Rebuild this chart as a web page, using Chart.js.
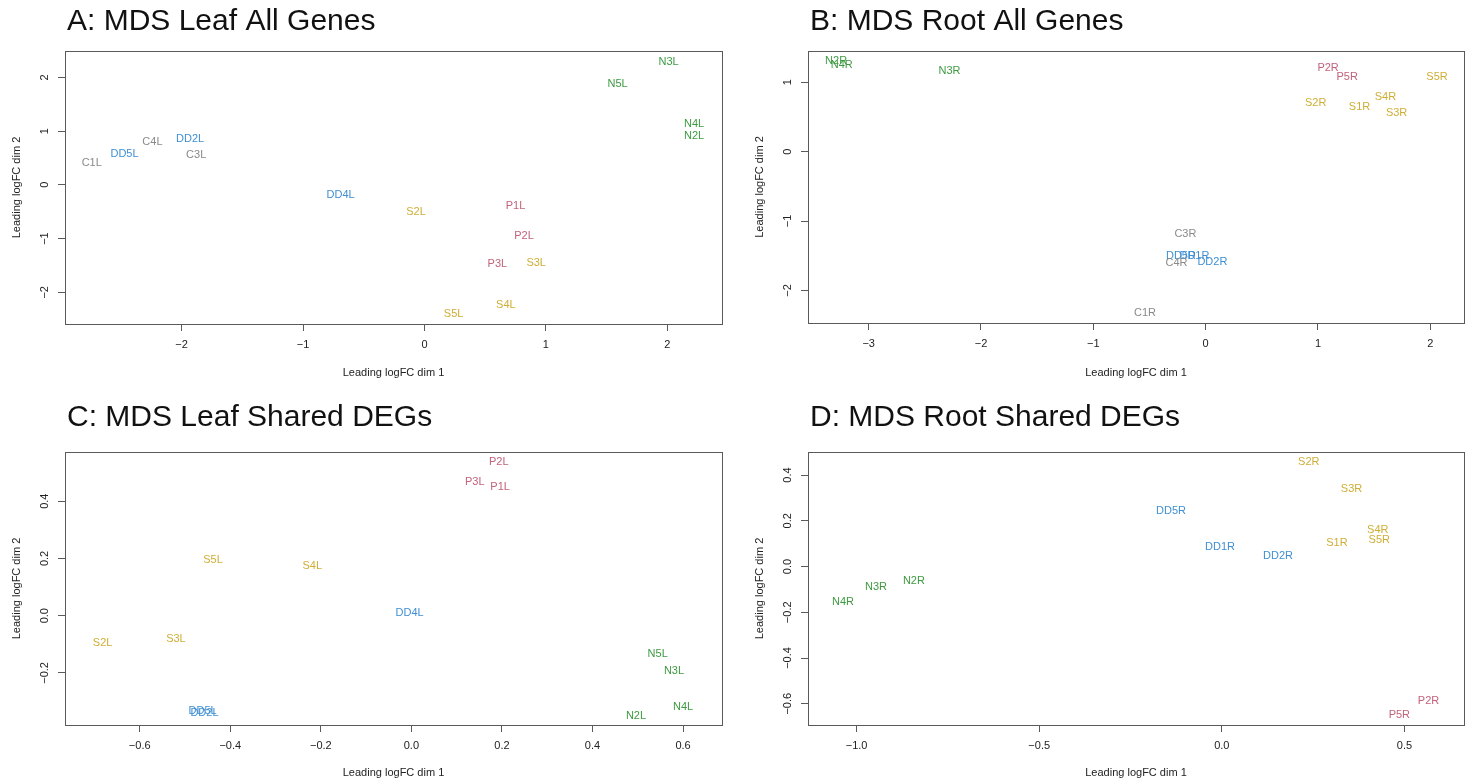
<!DOCTYPE html>
<html>
<head>
<meta charset="utf-8">
<script src="https://cdn.jsdelivr.net/npm/chart.js@4.4.0/dist/chart.umd.min.js"></script>
<style>
body { margin: 0; background: #fff; }
#wrap { position: relative; width: 1471px; height: 784px; overflow: hidden; }
canvas { position: absolute; }
</style>
</head>
<body>
<div id="wrap">
  <canvas id="chartA" width="735" height="392" style="left:0;top:0"></canvas>
  <canvas id="chartB" width="736" height="392" style="left:735px;top:0"></canvas>
  <canvas id="chartC" width="735" height="392" style="left:0;top:392px"></canvas>
  <canvas id="chartD" width="736" height="392" style="left:735px;top:392px"></canvas>
</div>
<script>
// A: leaf, all genes
const leafAllNames = ['N3L','N5L','N4L','N2L','C4L','DD2L','DD5L','C3L','C1L','DD4L','S2L','P1L','P2L','P3L','S3L','S4L','S5L'];
const leafAllX = [2.01, 1.59, 2.22, 2.22, -2.24, -1.93, -2.47, -1.88, -2.74, -0.69, -0.07, 0.75, 0.82, 0.60, 0.92, 0.67, 0.24];
const leafAllY = [2.29, 1.88, 1.13, 0.90, 0.80, 0.85, 0.57, 0.55, 0.41, -0.18, -0.51, -0.40, -0.95, -1.47, -1.45, -2.24, -2.41];
const leafAllXTicks = [-2, -1, 0, 1, 2];
const leafAllYTicks = [-2, -1, 0, 1, 2];

// B: root, all genes
const rootAllNames = ['N2R','N4R','N3R','P2R','P5R','S5R','S4R','S2R','S1R','S3R','C3R','DD5R','DD1R','C4R','DD2R','C1R'];
const rootAllX = [-3.29, -3.24, -2.28, 1.09, 1.26, 2.06, 1.60, 0.98, 1.37, 1.70, -0.18, -0.22, -0.10, -0.26, 0.06, -0.54];
const rootAllY = [1.31, 1.25, 1.16, 1.20, 1.07, 1.08, 0.79, 0.70, 0.64, 0.56, -1.19, -1.50, -1.50, -1.61, -1.59, -2.32];
const rootAllXTicks = [-3, -2, -1, 0, 1, 2];
const rootAllYTicks = [-2, -1, 0, 1];

// C: leaf, shared DEGs
const leafSharedNames = ['P2L','P3L','P1L','S5L','S4L','DD4L','S2L','S3L','N5L','N3L','N4L','N2L','DD2L','DD5L'];
const leafSharedX = [0.193, 0.140, 0.196, -0.438, -0.219, -0.004, -0.682, -0.520, 0.544, 0.580, 0.600, 0.496, -0.457, -0.461];
const leafSharedY = [0.537, 0.467, 0.451, 0.193, 0.175, 0.009, -0.097, -0.081, -0.133, -0.194, -0.320, -0.350, -0.341, -0.333];
const leafSharedXTicks = [-0.6, -0.4, -0.2, 0, 0.2, 0.4, 0.6];
const leafSharedYTicks = [-0.2, 0, 0.2, 0.4];

// D: root, shared DEGs
const rootSharedNames = ['S2R','S3R','DD5R','S4R','S5R','S1R','DD1R','DD2R','N2R','N3R','N4R','P2R','P5R'];
const rootSharedX = [0.238, 0.355, -0.139, 0.427, 0.431, 0.315, -0.005, 0.154, -0.843, -0.947, -1.037, 0.566, 0.486];
const rootSharedY = [0.457, 0.340, 0.242, 0.161, 0.117, 0.102, 0.085, 0.048, -0.061, -0.090, -0.153, -0.588, -0.650];
const rootSharedXTicks = [-1, -0.5, 0, 0.5];
const rootSharedYTicks = [-0.6, -0.4, -0.2, 0, 0.2, 0.4];

const FONT = '"Liberation Sans", Arial, sans-serif';

function labelColor(name) {
  if (name.startsWith('DD')) return '#3f8fd2';
  if (name[0] == 'N') return '#3d9a41';
  if (name[0] == 'C') return '#8a8a8a';
  if (name[0] == 'S') return '#cfae35';
  if (name[0] == 'P') return '#c2637a';
  return '#333';
}

function fmtTick(v, dec) {
  return v.toFixed(dec).replace('-', '\u2212');
}

// draws sample names at the points, box frame, rotated y tick labels and the panel title
const mdsPlugin = {
  id: 'mdsPlugin',
  afterDraw(chart) {
    const ctx = chart.ctx;
    const area = chart.chartArea;
    const opts = chart.options.plugins.mdsPlugin;
    const meta = chart.getDatasetMeta(0);
    const names = chart.data.datasets[0].names;
    ctx.save();
    ctx.font = '11px ' + FONT;
    ctx.textAlign = 'center';
    ctx.textBaseline = 'middle';
    meta.data.forEach((pt, i) => {
      ctx.fillStyle = labelColor(names[i]);
      ctx.fillText(names[i], pt.x, pt.y);
    });

    ctx.strokeStyle = '#5a5a5a';
    ctx.lineWidth = 1;
    ctx.strokeRect(Math.round(area.left) + 0.5, Math.round(area.top) + 0.5,
      Math.round(area.right - area.left), Math.round(area.bottom - area.top));

    const ys = chart.scales.y;
    ctx.fillStyle = '#222';
    ys.ticks.forEach(t => {
      const py = ys.getPixelForValue(t.value);
      ctx.save();
      ctx.translate(area.left - 20, py);
      ctx.rotate(-Math.PI / 2);
      ctx.fillText(fmtTick(t.value, opts.dec), 0, 0);
      ctx.restore();
    });

    ctx.fillStyle = '#111';
    ctx.font = '30px ' + FONT;
    ctx.textAlign = 'left';
    ctx.fillText(opts.title, area.left + 2, opts.titleY);
    ctx.restore();
  }
};

function makeChart(id, names, xs, ys, xTicks, yTicks, o) {
  const points = xs.map((x, i) => ({ x: x, y: ys[i] }));
  new Chart(document.getElementById(id), {
    type: 'scatter',
    data: { datasets: [{ data: points, names: names, pointRadius: 0, pointHoverRadius: 0 }] },
    options: {
      responsive: false,
      animation: false,
      events: [],
      layout: { padding: { left: 0, top: o.top, right: o.right, bottom: 0 } },
      plugins: {
        legend: { display: false },
        tooltip: { enabled: false },
        mdsPlugin: { title: o.title, titleY: o.titleY, dec: o.dec }
      },
      scales: {
        x: {
          type: 'linear',
          min: o.xMin, max: o.xMax,
          afterBuildTicks: s => { s.ticks = xTicks.map(v => ({ value: v })); },
          afterFit: s => { s.height = o.xHeight; },
          grid: { drawOnChartArea: false, drawTicks: true, tickLength: 7, color: '#5a5a5a' },
          border: { display: false },
          ticks: {
            padding: 7, color: '#222', font: { size: 11, family: FONT },
            maxRotation: 0, autoSkip: false,
            callback: v => fmtTick(v, o.dec)
          },
          title: {
            display: true, text: 'Leading logFC dim 1', color: '#222',
            font: { size: 11, family: FONT }, padding: { top: 0, bottom: o.xTitlePad }
          }
        },
        y: {
          type: 'linear',
          min: o.yMin, max: o.yMax,
          afterBuildTicks: s => { s.ticks = yTicks.map(v => ({ value: v })); },
          afterFit: s => { s.width = o.left; },
          grid: { drawOnChartArea: false, drawTicks: true, tickLength: 7, color: '#5a5a5a' },
          border: { display: false },
          ticks: { display: false },
          title: {
            display: true, text: 'Leading logFC dim 2', color: '#222',
            font: { size: 11, family: FONT }, padding: { top: o.yTitlePad, bottom: 0 }
          }
        }
      }
    },
    plugins: [mdsPlugin]
  });
}

makeChart('chartA', leafAllNames, leafAllX, leafAllY, leafAllXTicks, leafAllYTicks, {
  title: 'A: MDS Leaf All Genes', titleY: 22, dec: 0,
  xMin: -2.96, xMax: 2.45, yMin: -2.59, yMax: 2.49,
  top: 51, right: 13, left: 65, xHeight: 68, xTitlePad: 12, yTitlePad: 10
});
makeChart('chartB', rootAllNames, rootAllX, rootAllY, rootAllXTicks, rootAllYTicks, {
  title: 'B: MDS Root All Genes', titleY: 22, dec: 0,
  xMin: -3.54, xMax: 2.30, yMin: -2.47, yMax: 1.45,
  top: 51, right: 7, left: 73, xHeight: 69, xTitlePad: 12, yTitlePad: 18
});
makeChart('chartC', leafSharedNames, leafSharedX, leafSharedY, leafSharedXTicks, leafSharedYTicks, {
  title: 'C: MDS Leaf Shared DEGs', titleY: 26, dec: 1,
  xMin: -0.765, xMax: 0.686, yMin: -0.382, yMax: 0.572,
  top: 60, right: 13, left: 65, xHeight: 59, xTitlePad: 4, yTitlePad: 10
});
makeChart('chartD', rootSharedNames, rootSharedX, rootSharedY, rootSharedXTicks, rootSharedYTicks, {
  title: 'D: MDS Root Shared DEGs', titleY: 26, dec: 1,
  xMin: -1.133, xMax: 0.663, yMin: -0.693, yMax: 0.501,
  top: 60, right: 7, left: 73, xHeight: 59, xTitlePad: 4, yTitlePad: 18
});
</script>
</body>
</html>
